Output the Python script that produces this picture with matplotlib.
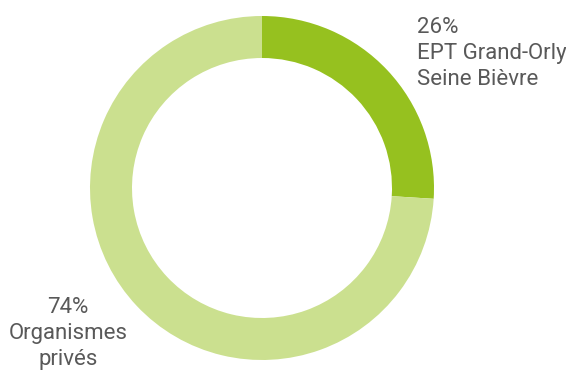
import matplotlib.pyplot as plt

labels = ["EPT Grand-Orly\nSeine Bièvre", "Organismes\nprivés"]
values = [26, 74]
colors = ["#96c11f", "#cbe08f"]

fig = plt.figure(figsize=(5.66, 3.70), dpi=100)
ax = fig.add_axes([90 / 566, 10 / 370, 344 / 566, 344 / 370])
ax.pie(values, colors=colors, startangle=90, counterclock=False,
       radius=1, wedgeprops=dict(width=42 / 172, linewidth=0))
ax.set_xlim(-1, 1)
ax.set_ylim(-1, 1)
ax.set_aspect("equal")
ax.axis("off")

txt = dict(family="Roboto", fontsize=16, color="#595959", linespacing=1.3)
fig.text(417 / 566, 1 - 17 / 370, f"{values[0]}%\n{labels[0]}",
         ha="left", va="top", **txt)
fig.text(68 / 566, 1 - 297 / 370, f"{values[1]}%\n{labels[1]}",
         ha="center", va="top", **txt)

fig.savefig("out.png", dpi=100)
